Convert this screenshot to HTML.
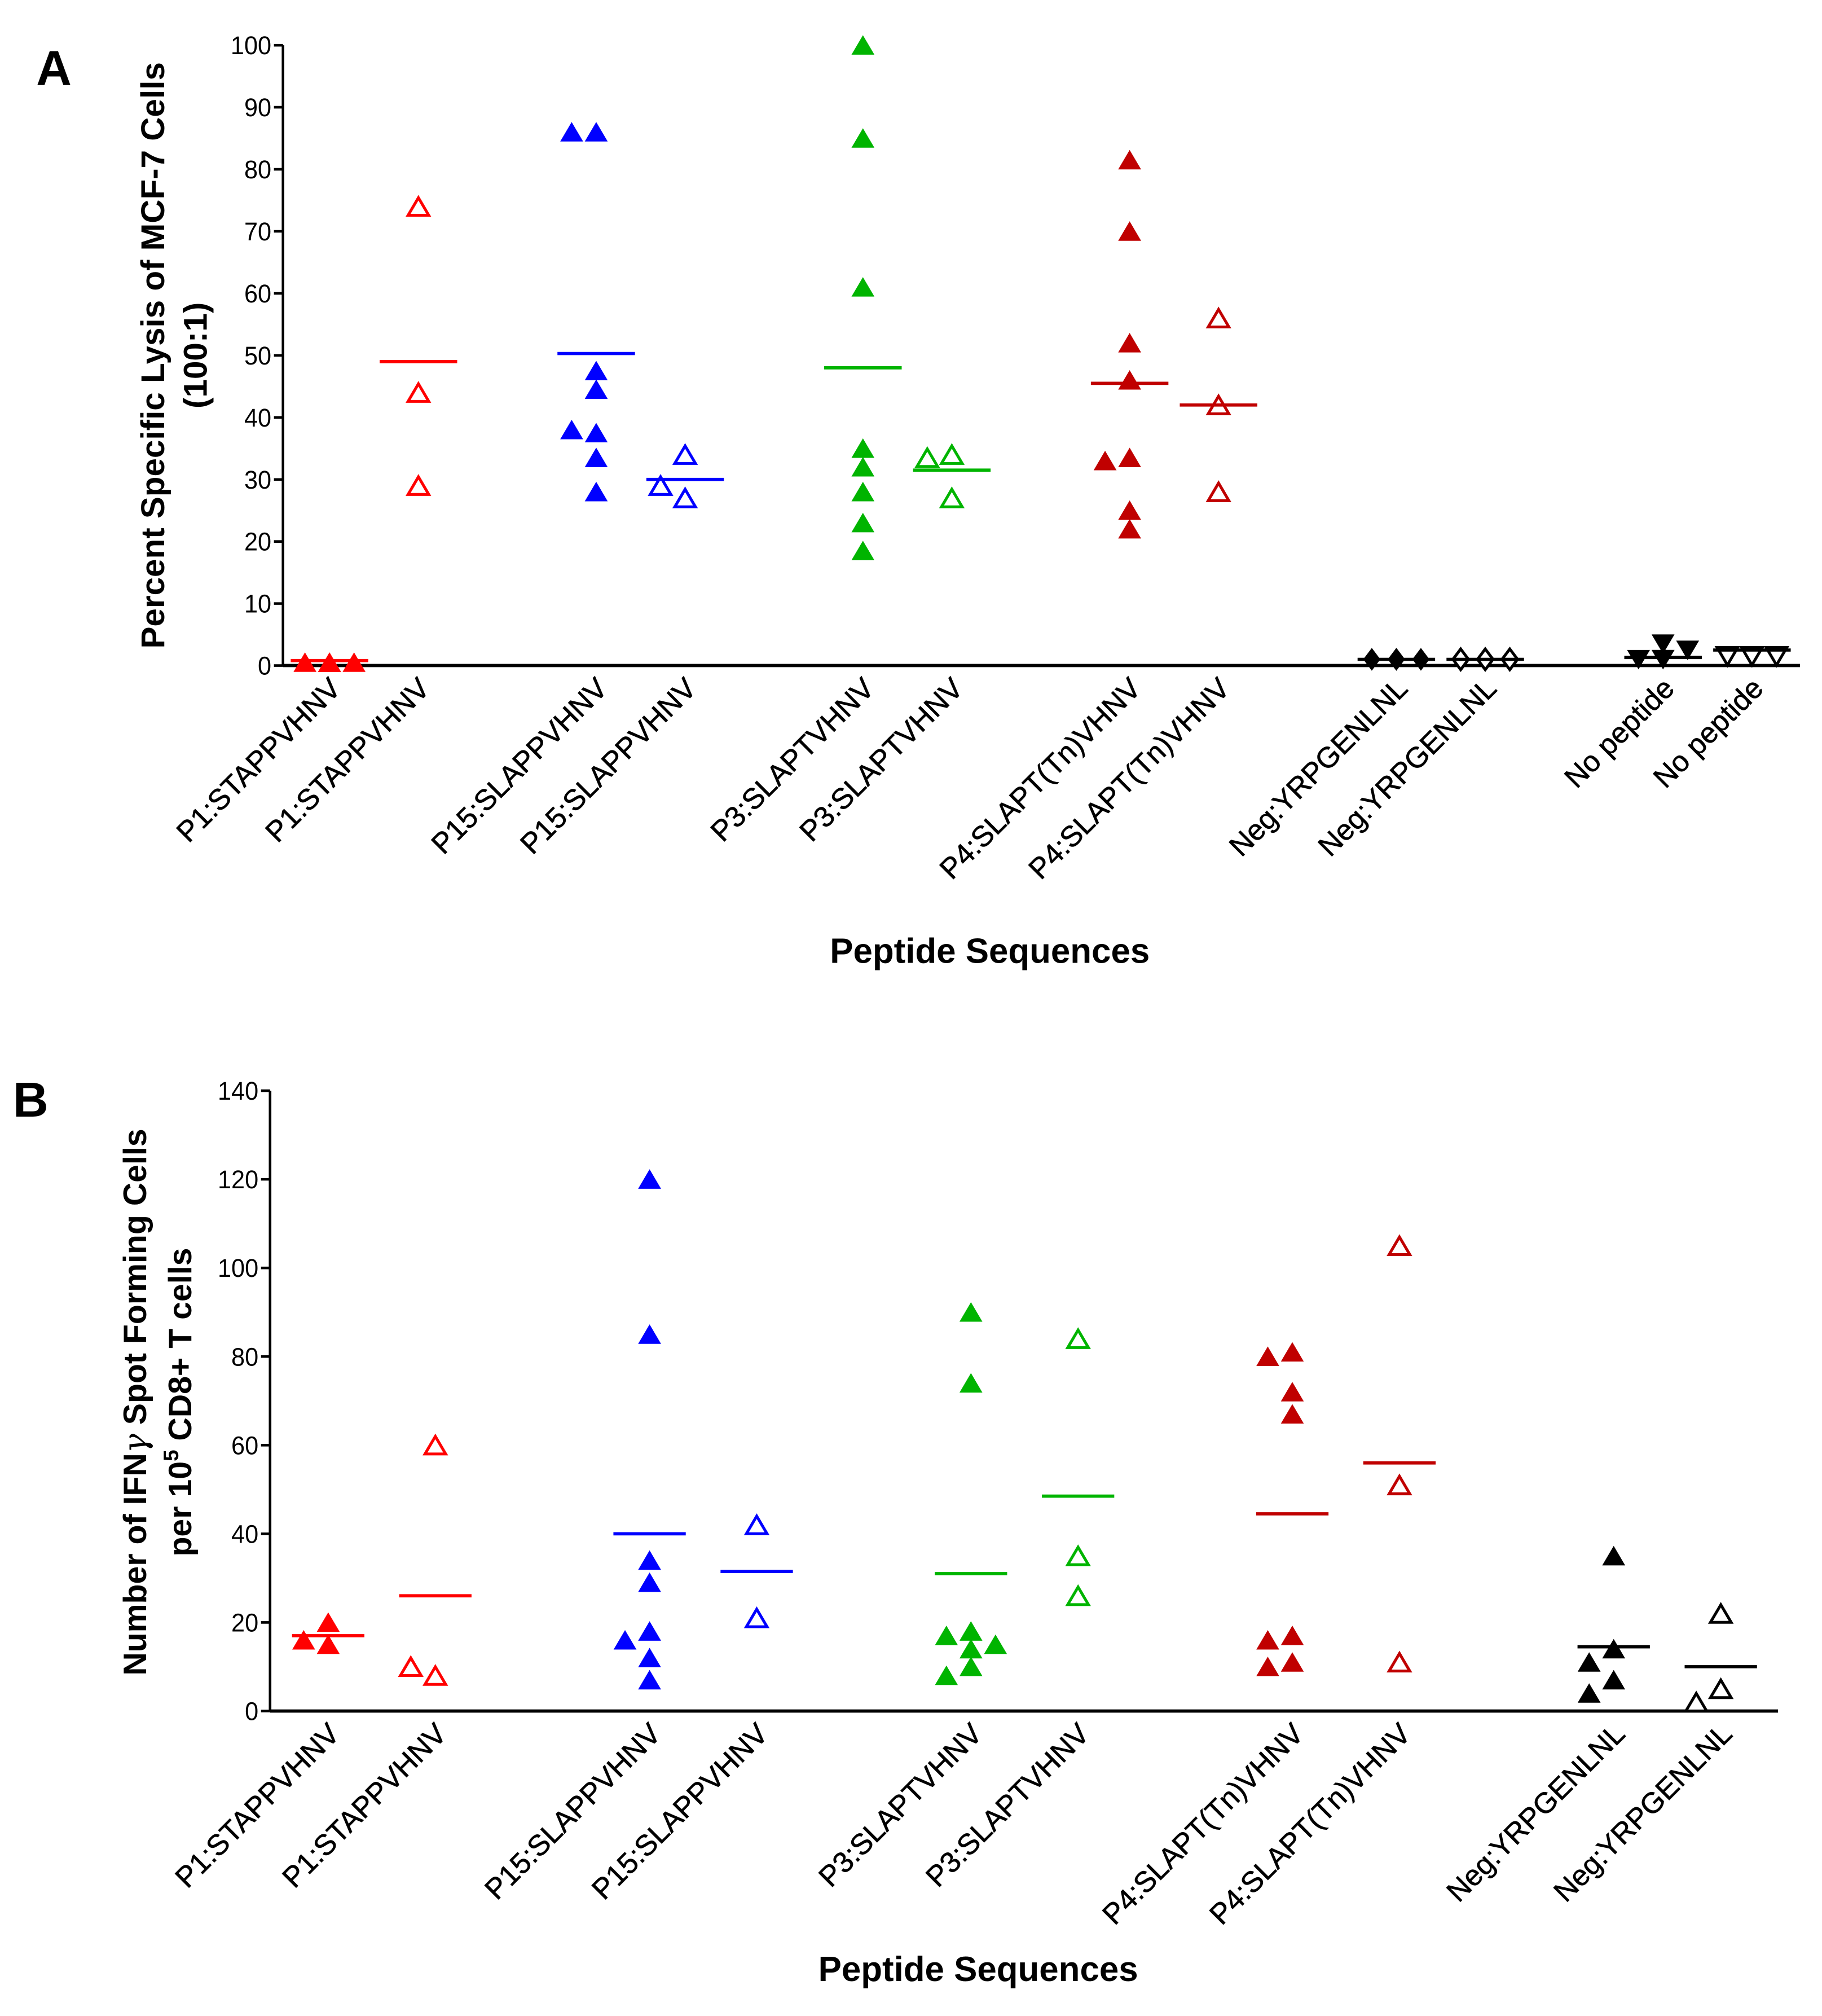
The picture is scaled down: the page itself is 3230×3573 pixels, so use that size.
<!DOCTYPE html>
<html><head><meta charset="utf-8"><style>
html,body{margin:0;padding:0;background:#fff}
svg{display:block}
text{font-family:"Liberation Sans",Arial,sans-serif;fill:#000}
</style></head><body>
<svg id="fig" xmlns="http://www.w3.org/2000/svg" width="3230" height="3573" viewBox="0 0 1410 1560" preserveAspectRatio="none"></svg>
<script>
// ---------- Panel A data ----------
const catsA = ["P1:STAPPVHNV","P1:STAPPVHNV","P15:SLAPPVHNV","P15:SLAPPVHNV","P3:SLAPTVHNV","P3:SLAPTVHNV","P4:SLAPT(Tn)VHNV","P4:SLAPT(Tn)VHNV","Neg:YRPGENLNL","Neg:YRPGENLNL","No peptide","No peptide"];
const slotsA = [0,1,3,4,6,7,9,10,12,13,15,16];
const valuesA = [
  [0.5,0.5,0.5,0.5,0.5],
  [74,44,29],
  [86,86,47.5,44.5,37.5,38,33.5,28],
  [34,27,29],
  [100,85,61,35,32,28,23,18.5],
  [34,33.5,27],
  [81.5,70,52,46,33.5,33,25,22],
  [56,42,28],
  [1,1,1,1,1],
  [1,1,1],
  [3.5,1,1,2.5,1],
  [1.5,1.5,1.5]
];
const meansA = [0.8,49,50.3,30,48,31.5,45.5,42,1,1,1.3,2.5];
const colorsA = ["#ff0000","#ff0000","#0000ff","#0000ff","#00b400","#00b400","#c00000","#c00000","#000","#000","#000","#000"];
const shapesA = ["tri","otri","tri","otri","tri","otri","tri","otri","dia","odia","itri","oitri"];
const ticksA = [0,10,20,30,40,50,60,70,80,90,100];

// ---------- Panel B data ----------
const catsB = ["P1:STAPPVHNV","P1:STAPPVHNV","P15:SLAPPVHNV","P15:SLAPPVHNV","P3:SLAPTVHNV","P3:SLAPTVHNV","P4:SLAPT(Tn)VHNV","P4:SLAPT(Tn)VHNV","Neg:YRPGENLNL","Neg:YRPGENLNL"];
const slotsB = [0,1,3,4,6,7,9,10,12,13];
const valuesB = [
  [20,15,16],
  [60,8,10],
  [120,85,34,29,18,16,12,7],
  [42,21],
  [90,74,18,17,15,14,10,8],
  [84,35,26],
  [81,80,72,67,17,16,11,10],
  [105,51,11],
  [35,14,11,7,4],
  [22,5,2]
];
const meansB = [17,26,40,31.5,31,48.5,44.5,56,14.5,10];
const colorsB = ["#ff0000","#ff0000","#0000ff","#0000ff","#00b400","#00b400","#c00000","#c00000","#000","#000"];
const shapesB = ["tri","otri","tri","otri","tri","otri","tri","otri","tri","otri"];
const ticksB = [0,20,40,60,80,100,120,140];

const NS="http://www.w3.org/2000/svg";
const svg=document.getElementById('fig');
function mk(tag,attrs,parent){const e=document.createElementNS(NS,tag);for(const k in attrs)e.setAttribute(k,attrs[k]);(parent||svg).appendChild(e);return e;}

function marker(g,shape,cx,cy,color){
  const s=8;let d;
  if(shape.includes('dia')) d=`M${cx},${cy-s} L${cx+s*0.75},${cy} L${cx},${cy+s} L${cx-s*0.75},${cy} Z`;
  else if(shape.includes('itri')) d=`M${cx-s},${cy-s*0.85} L${cx+s},${cy-s*0.85} L${cx},${cy+s*0.85} Z`;
  else d=`M${cx-s},${cy+s*0.85} L${cx+s},${cy+s*0.85} L${cx},${cy-s*0.85} Z`;
  const open=shape.startsWith('o');
  const p=mk('path',{d:d,fill:open?'#fff':color,stroke:color,'stroke-width':open?2.2:1},g);
  
  
}

function panel(cfg){
  const g=mk('g',{});
  
  
  const y=v=>cfg.y0-(v-cfg.vmin)/(cfg.vmax-cfg.vmin)*(cfg.y0-cfg.y1);
  const x=slot=>cfg.xs+slot*cfg.unit;
  const ya=mk('line',{x1:cfg.ax,y1:y(cfg.vmax),x2:cfg.ax,y2:cfg.y0,stroke:'#000','stroke-width':2},g);
  
  const xa=mk('line',{x1:cfg.ax,y1:cfg.y0,x2:cfg.xend,y2:cfg.y0,stroke:'#000','stroke-width':2.5},g);
  
  cfg.ticks.forEach(t=>{
    const l=mk('line',{x1:cfg.ax-7,y1:y(t),x2:cfg.ax,y2:y(t),stroke:'#000','stroke-width':2},g);
    
    const tx=mk('text',{x:cfg.ax-9,y:y(t)+7,'text-anchor':'end','font-size':20,textLength:String(t).length*10.5,lengthAdjust:'spacingAndGlyphs'},g);
    tx.textContent=t;
    
  });
  cfg.cats.forEach((c,i)=>{
    const cx=x(cfg.slots[i]);
    const lx=cx+10, ly=cfg.y0+19;
    const t=mk('text',{x:lx,y:ly,'text-anchor':'end','font-size':22.5,stroke:'#000','stroke-width':0.3,transform:`rotate(-45 ${lx} ${ly})`},g);
    t.textContent=c;
    
    const placed=[];
    const offs=[0,-1,1,-2,2,-3,3];
    cfg.values[i].forEach(v=>{
      const py=y(v);let px=cx;
      for(const o of offs){const cxx=cx+o*cfg.step;if(!placed.some(p=>Math.abs(p[0]-cxx)<13&&Math.abs(p[1]-py)<12)){px=cxx;break;}}
      placed.push([px,py]);
      marker(g,cfg.shapes[i],px,py,cfg.colors[i]);
    });
    const m=mk('line',{x1:cx-cfg.mw/2,y1:y(cfg.means[i]),x2:cx+cfg.mw/2,y2:y(cfg.means[i]),stroke:cfg.colors[i],'stroke-width':2.5},g);
    
  });
  const xt=mk('text',{x:cfg.xtx,y:cfg.xty,'text-anchor':'middle','font-size':27,'font-weight':'bold'},g);
  xt.textContent='Peptide Sequences';
  
  return y;
}

panel({name:'panel-a',ax:219,y0:515,y1:35,vmin:0,vmax:100,xs:255,unit:68.8,xend:1393,ticks:ticksA,cats:catsA,slots:slotsA,values:valuesA,means:meansA,colors:colorsA,shapes:shapesA,step:9.5,mw:60,xtx:766,xty:745});
panel({name:'panel-b',ax:209,y0:1324,y1:844,vmin:0,vmax:140,xs:254,unit:82.9,xend:1376,ticks:ticksB,cats:catsB,slots:slotsB,values:valuesB,means:meansB,colors:colorsB,shapes:shapesB,step:9.5,mw:56,xtx:757,xty:1533});
</script>
<svg style="position:absolute;left:0;top:0" width="3230" height="3573" viewBox="0 0 1410 1560" preserveAspectRatio="none" xmlns="http://www.w3.org/2000/svg">
  <text x="28" y="66" font-size="38" font-weight="bold" style="font-family:'Liberation Sans',sans-serif">A</text>
  <text x="10" y="864" font-size="38" font-weight="bold" style="font-family:'Liberation Sans',sans-serif">B</text>
  <g transform="translate(127 275) rotate(-90)">
    <text x="0" y="0" text-anchor="middle" font-size="25.5" font-weight="bold" style="font-family:'Liberation Sans',sans-serif">Percent Specific Lysis of MCF-7 Cells</text>
    <text x="0" y="33" text-anchor="middle" font-size="25.5" font-weight="bold" style="font-family:'Liberation Sans',sans-serif">(100:1)</text>
  </g>
  <g transform="translate(113 1085) rotate(-90)">
    <text x="0" y="0" text-anchor="middle" font-size="25" font-weight="bold" style="font-family:'Liberation Sans',sans-serif">Number of IFN<tspan font-style="italic" font-weight="normal" style="font-family:'DejaVu Serif',serif">γ</tspan> Spot Forming Cells</text>
    <text x="0" y="35" text-anchor="middle" font-size="25" font-weight="bold" style="font-family:'Liberation Sans',sans-serif">per 10<tspan dy="-10" font-size="16">5</tspan><tspan dy="10"> CD8+ T cells</tspan></text>
  </g>
</svg>
</body></html>
